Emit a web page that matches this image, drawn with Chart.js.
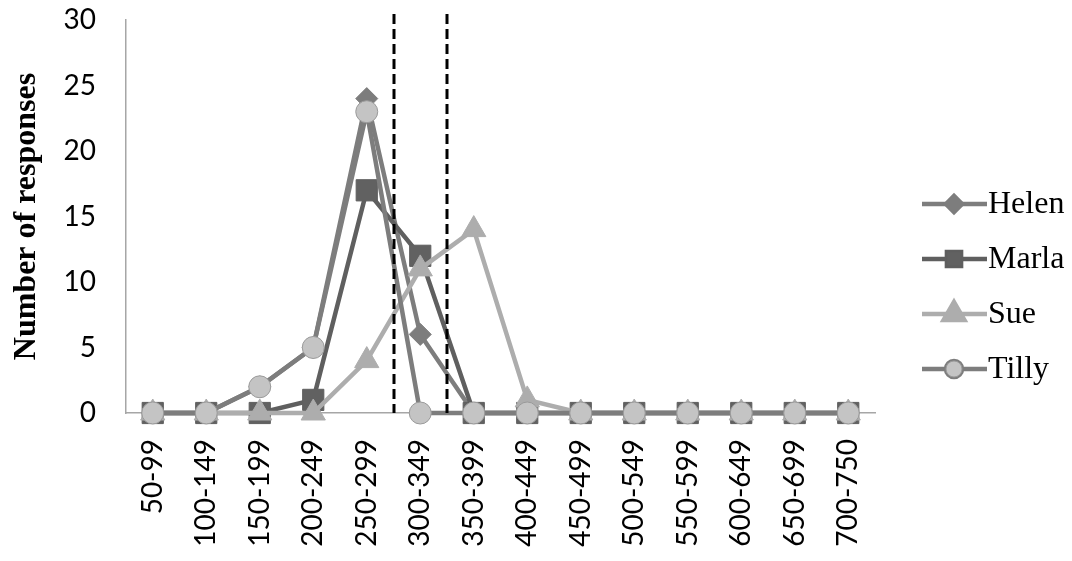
<!DOCTYPE html>
<html>
<head>
<meta charset="utf-8">
<script src="https://cdn.jsdelivr.net/npm/chart.js@4.4.0/dist/chart.umd.min.js"></script>
<style>
html,body{margin:0;padding:0;background:#fff;}
#wrap{width:1072px;height:561px;position:relative;}
</style>
</head>
<body>
<div id="wrap"><canvas id="c" width="1072" height="561"></canvas></div>
<script>
const categories = ["50-99","100-149","150-199","200-249","250-299","300-349","350-399","400-449","450-499","500-549","550-599","600-649","650-699","700-750"];
const helen = [0,0,2,5,24,6,0,0,0,0,0,0,0,0];
const marla = [0,0,0,1,17,12,0,0,0,0,0,0,0,0];
const sue   = [0,0,0,0,4,11,14,1,0,0,0,0,0,0];
const tilly = [0,0,2,5,23,0,0,0,0,0,0,0,0,0];
const yTicks = [0,5,10,15,20,25,30];
const cutoffs = [4.5, 5.5];

const datasets = [
  {label:"Helen", data:helen, order:4, borderColor:"#7d7d7d", backgroundColor:"#7d7d7d", pointBorderColor:"#7d7d7d", pointStyle:"rectRot", pointRadius:11, legendRadius:8},
  {label:"Marla", data:marla, order:3, borderColor:"#5f5f5f", backgroundColor:"#616161", pointBorderColor:"#5f5f5f", pointStyle:"rect", pointRadius:15, legendRadius:10},
  {label:"Sue",   data:sue,   order:2, borderColor:"#adadad", backgroundColor:"#adadad", pointBorderColor:"#adadad", pointStyle:"triangle", pointRadius:14, legendRadius:12},
  {label:"Tilly", data:tilly, order:1, borderColor:"#7d7d7d", backgroundColor:"#c4c4c4", pointBorderColor:"#9a9a9a", pointStyle:"circle", pointRadius:11, legendRadius:8}
].map(d => Object.assign({tension:0, borderWidth:4.5, pointBorderWidth:1, pointHoverRadius:d.pointRadius, fill:false, clip:false}, d));

const overlay = {
  id:"overlay",
  afterDatasetsDraw(chart){
    const ctx = chart.ctx, x = chart.scales.x, a = chart.chartArea;
    ctx.save();
    ctx.strokeStyle = "#000";
    ctx.lineWidth = 3;
    ctx.setLineDash([10,5]);
    cutoffs.forEach(v => {
      const px = Math.round(x.getPixelForValue(v));
      ctx.beginPath();
      ctx.moveTo(px, a.top - 6);
      ctx.lineTo(px, a.bottom);
      ctx.stroke();
    });
    ctx.restore();
  },
  afterDraw(chart){
    const ctx = chart.ctx;
    ctx.save();
    chart.data.datasets.forEach((d,i) => {
      const y = 204 + i*55;
      ctx.strokeStyle = d.borderColor;
      ctx.lineWidth = 4.5;
      ctx.setLineDash([]);
      ctx.beginPath();
      ctx.moveTo(922, y); ctx.lineTo(987, y);
      ctx.stroke();
      Chart.helpers.drawPoint(ctx, {pointStyle:d.pointStyle, radius:d.legendRadius, rotation:0, borderWidth:1}, 954, y);
      ctx.fillStyle = d.backgroundColor;
      ctx.strokeStyle = d.pointBorderColor;
      ctx.lineWidth = 1;
      ctx.fill(); ctx.stroke();
      ctx.fillStyle = "#000";
      ctx.font = "32px 'Liberation Serif'";
      ctx.textAlign = "left";
      ctx.textBaseline = "middle";
      ctx.fillText(d.label, 988, y+1);
    });
    ctx.restore();
  }
};

new Chart(document.getElementById("c"), {
  type:"line",
  data:{labels:categories, datasets:datasets},
  options:{
    responsive:false,
    animation:false,
    devicePixelRatio:1,
    layout:{padding:{top:20, right:197, bottom:0, left:0}},
    plugins:{legend:{display:false}, tooltip:{enabled:false}},
    scales:{
      x:{
        offset:true,
        grid:{display:false, drawTicks:false},
        border:{display:true, color:"#a6a6a6", width:1.5},
        ticks:{color:"#000", font:{family:"Lato", size:28}, maxRotation:90, minRotation:90, padding:26, autoSkip:false},
        afterFit(s){ s.height = 148; s.paddingLeft = 0; s.paddingRight = 0; }
      },
      y:{
        min:0, max:30,
        afterBuildTicks(s){ s.ticks = yTicks.map(v => ({value:v})); },
        grid:{display:false, drawTicks:false},
        border:{display:true, color:"#a6a6a6", width:1.5},
        ticks:{color:"#000", font:{family:"Lato", size:28}, padding:30},
        title:{display:true, text:"Number of responses", color:"#000", font:{family:"Liberation Serif", size:32, weight:"bold"}, padding:{top:8,bottom:0}},
        afterFit(s){ s.width = 126; s.paddingTop = 0; s.paddingBottom = 0; }
      }
    }
  },
  plugins:[overlay]
});
</script>
</body>
</html>
